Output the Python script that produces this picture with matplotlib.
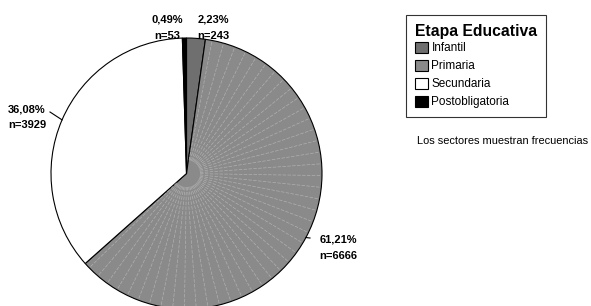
import matplotlib
matplotlib.use('Agg')
import matplotlib.pyplot as plt
import numpy as np

plt.rcParams['font.family'] = ['Liberation Sans', 'DejaVu Sans']

categorias = ['Infantil', 'Primaria', 'Secundaria', 'Postobligatoria']
frecuencias = [243, 6666, 3929, 53]
porcentajes = ['2,23%', '61,21%', '36,08%', '0,49%']
colores = ['#6f6f6f', '#8a8a8a', '#ffffff', '#000000']

fig = plt.figure(figsize=(5.91, 3.06), dpi=100)
W, H = 591, 306
cx, cy, r = 186.5, 173.5, 135.5
ax = fig.add_axes([(cx - r) / W, (H - cy - r) / H, 2 * r / W, 2 * r / H])

wedges, _ = ax.pie(frecuencias, colors=colores, startangle=90, counterclock=False,
                   wedgeprops=dict(edgecolor='black', linewidth=0.8))
ax.set_xlim(-1, 1)
ax.set_ylim(-1, 1)
ax.set_aspect('auto')
ax.axis('off')

# faint radial lines over the Primaria wedge (rendering artefact of original)
w = wedges[1]
for a in np.arange(w.theta1 + 2.5, w.theta2 - 1.0, 5.0):
    t = np.deg2rad(a)
    ax.plot([0.1 * np.cos(t), 0.995 * np.cos(t)], [0.1 * np.sin(t), 0.995 * np.sin(t)],
            color='#b0b0b0', lw=0.5, ls=(0, (5, 2)), zorder=3)

# labels (figure pixel positions, top-left origin)
pos_txt = [(213, 28), (338, 248), (27, 117), (167, 28)]
leaders = [None, (310, 238), (50, 112), None]
for i, (px, py) in enumerate(pos_txt):
    fig.text(px / W, 1 - py / H, porcentajes[i] + '\nn=' + str(frecuencias[i]),
             ha='center', va='center', fontsize=8, fontweight='bold', linespacing=1.75)
    if leaders[i] is not None:
        w = wedges[i]
        m = np.deg2rad((w.theta1 + w.theta2) / 2)
        ex, ey = cx + r * np.cos(m), cy - r * np.sin(m)
        lx, ly = leaders[i]
        fig.add_artist(plt.Line2D([ex / W, lx / W], [1 - ey / H, 1 - ly / H],
                                  color='black', lw=0.8))

# legend
handles = [plt.Rectangle((0, 0), 1, 1, facecolor=c, edgecolor='black', lw=0.8) for c in colores]
leg = fig.legend(handles, categorias, title='Etapa Educativa', loc='upper left',
                 bbox_to_anchor=(406 / W, 1 - 15 / H), frameon=True, fancybox=False,
                 edgecolor='black', fontsize=8.5, title_fontproperties={'weight': 'bold', 'size': 11.3},
                 handlelength=1.1, handleheight=1.1, handletextpad=0.3, labelspacing=0.45,
                 borderpad=0.75, alignment='left', borderaxespad=0)
leg.get_frame().set_linewidth(0.8)
leg._legend_box.sep = 2

fig.text(417 / W, 1 - 141 / H, 'Los sectores muestran frecuencias', fontsize=7.9,
         ha='left', va='center')

fig.savefig('out.png', dpi=100)
